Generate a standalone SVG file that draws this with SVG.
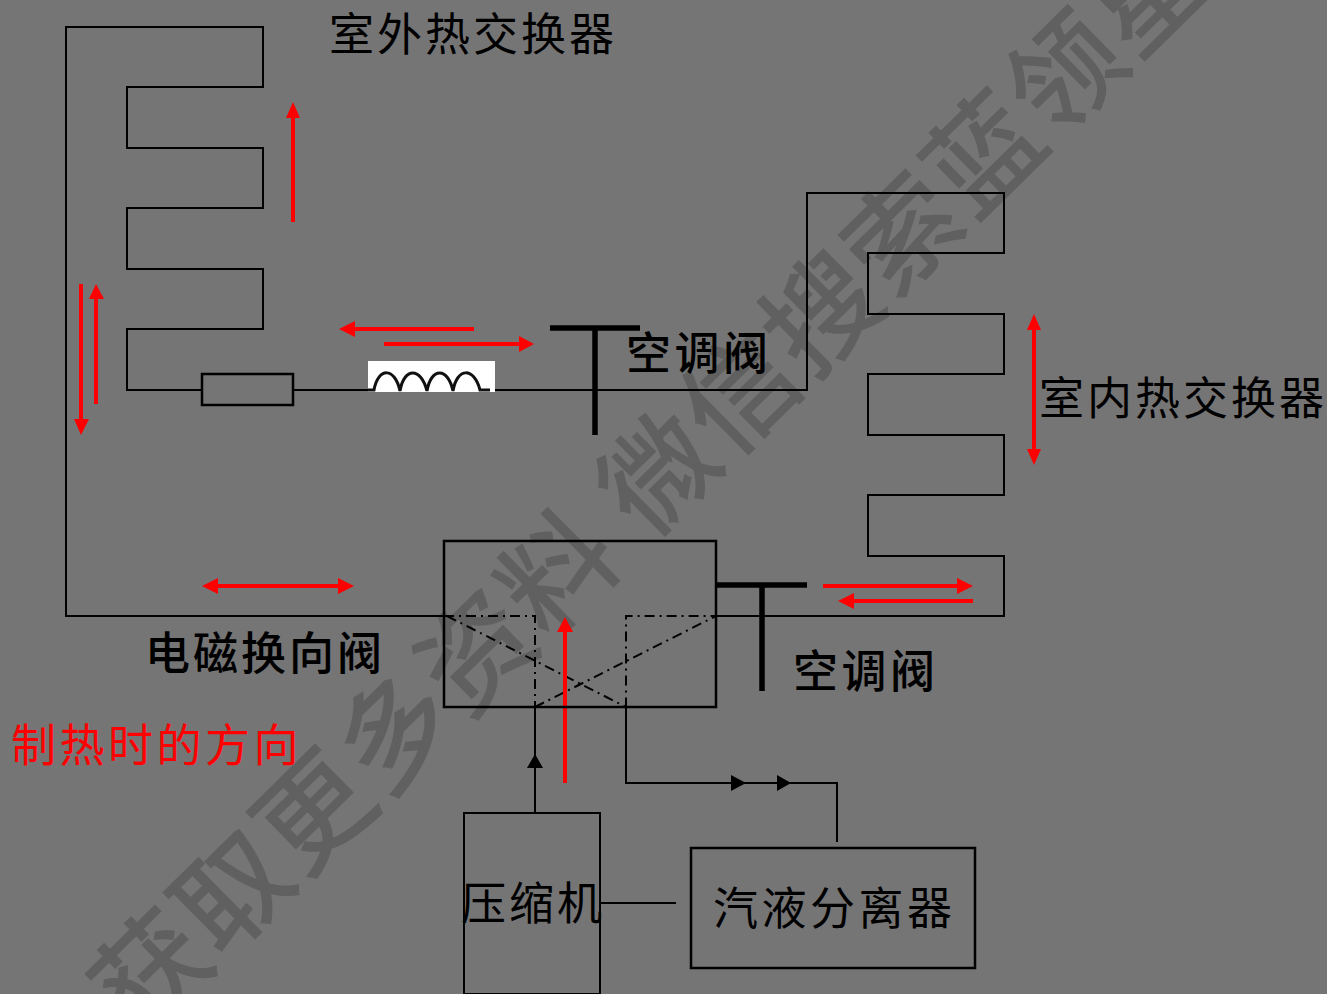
<svg xmlns="http://www.w3.org/2000/svg" width="1327" height="994" viewBox="0 0 1327 994">
<style>
.l{fill:none;stroke:#000;stroke-width:2}
.b{fill:none;stroke:#000;stroke-width:2.5}
.t{fill:none;stroke:#000;stroke-width:5.5}
.d{fill:none;stroke:#000;stroke-width:2;stroke-dasharray:10 5 2 5}
.r{fill:none;stroke:#f00;stroke-width:4}
.h{fill:#f00}
.k{fill:#000}
text{font-family:"Noto Sans CJK SC","Liberation Sans",sans-serif;font-size:45px;fill:#000;font-weight:400}
.s{font-weight:500}
.w{font-size:112px;fill:#606060;font-weight:500;letter-spacing:2px}
</style>
<rect width="1327" height="994" fill="#757575"/>
<text class="w" transform="translate(140,1040) rotate(-44.5)">获取更多资料 微信搜索蓝领星</text>
<g id="connectors">
<path class="l" d="M444,616H66V27H263V87H127V148H263V208H127V269H263V329H127V390H202"/>
<path class="l" d="M293,390H368M495,390H807V193H1004V253H868V314H1004V374H868V435H1004V495H868V556H1004V616H717"/>
<path class="d" d="M444,616H535V707M535,707L716,616H626V707M447,616L626,707"/>
<path class="l" d="M535,707V812M626,707V783H837V842M600,903H676"/>
<path class="k" d="M535,754L543,768H527Z M746,783L731,775V791Z M791,783L777,775V791Z"/>
<path class="r" d="M293,222V115M81,284V422M96,404V297M474,329H352M384,344H522M1034,326V452M215,586H341M823,586H960M973,601H851M565,783V630"/>
<path class="h" d="M293,102L300,118H286Z M81,435L74,419H89Z M96,284L104,299H89Z M339,329L355,321V337Z M534,344L519,336V352Z M1034,314L1041,330H1027Z M1034,465L1041,449H1027Z M202,586L218,578V594Z M354,586L338,578V594Z M973,586L957,578V594Z M838,601L854,593V609Z M565,617L573,632H557Z"/>
</g>
<g id="resistor"><rect class="b" x="202" y="374" width="91" height="31"/></g>
<g id="inductor">
<rect x="368" y="361" width="127" height="31" fill="#fff"/>
<path d="M368,390H374C378,367 395,367 400,391C404,367 421,367 427,391C431,367 448,367 453,391C457,367 474,367 480,390H490" fill="none" stroke="#111" stroke-width="3"/>
</g>
<g id="valve-top"><path class="t" d="M550,328H640M595,328V435"/><text x="626" y="370" class="s" letter-spacing="3.5">空调阀</text></g>
<g id="valve-bottom"><path class="t" d="M717,585H807M762,585V691"/><text x="793" y="688" class="s" letter-spacing="3.5">空调阀</text></g>
<g id="reversing-valve"><rect class="b" x="444" y="541" width="272" height="166"/><text x="145" y="670" class="s" letter-spacing="3">电磁换向阀</text></g>
<g id="compressor"><rect class="l" x="464" y="813" width="136" height="181"/><text x="461" y="920" letter-spacing="3">压缩机</text></g>
<g id="separator"><rect class="b" x="691" y="848" width="284" height="120"/><text x="713" y="925" letter-spacing="3.5">汽液分离器</text></g>
<g id="outdoor"><text x="329" y="51" letter-spacing="3">室外热交换器</text></g>
<g id="indoor"><text x="1039" y="415" letter-spacing="3">室内热交换器</text></g>
<g id="caption"><text x="11" y="762" style="fill:#f00" letter-spacing="3.5">制热时的方向</text></g>
</svg>
